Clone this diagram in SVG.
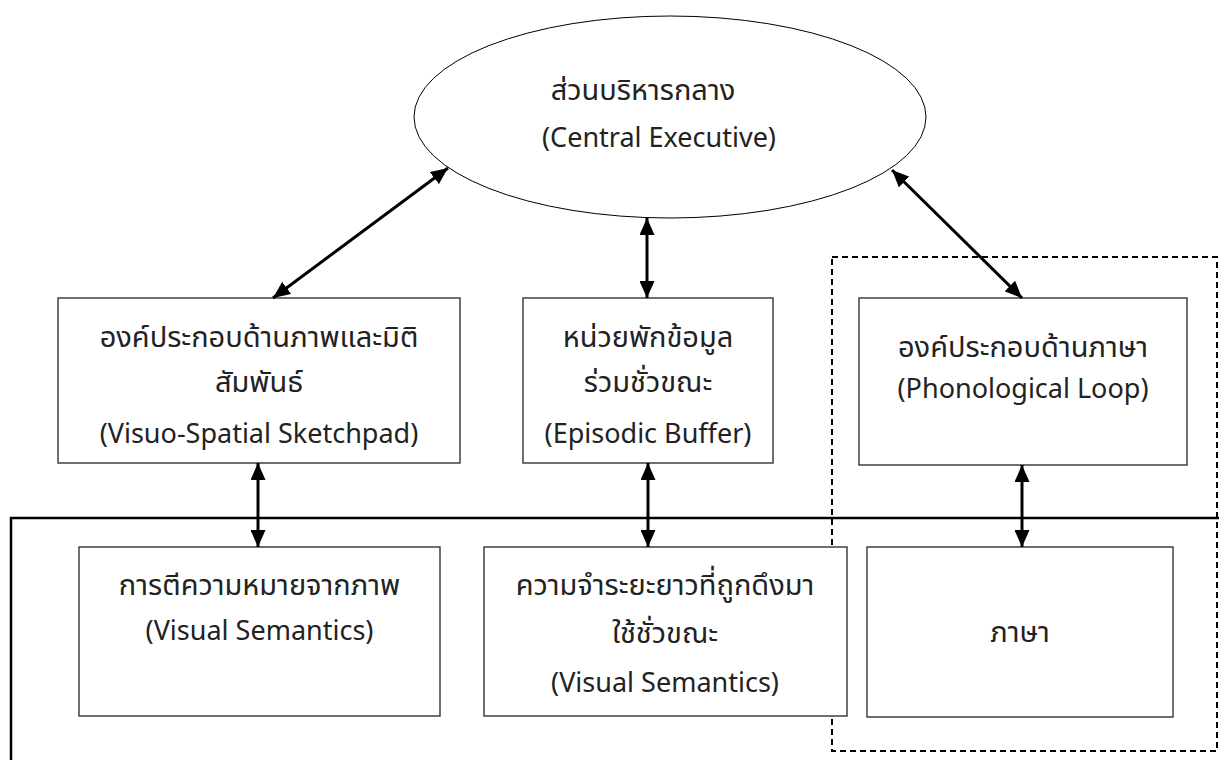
<svg xmlns="http://www.w3.org/2000/svg" width="1219" height="760" viewBox="0 0 1219 760">
<style>
.box{fill:#fff;stroke:#333;stroke-width:1.4}
.t{font-family:"Noto Sans","Noto Sans Thai","Liberation Sans",sans-serif;font-size:27px;fill:#222;text-anchor:middle}
.th{font-size:29px}
.c{stroke:#000;stroke-width:3;fill:none;marker-start:url(#ah);marker-end:url(#ah)}
</style>
<defs>
<marker id="ah" viewBox="0 0 17 15" refX="17" refY="7.5" markerWidth="17" markerHeight="15" markerUnits="userSpaceOnUse" orient="auto-start-reverse">
<path d="M0,0 L17,7.5 L0,15 Z" fill="#000"/>
</marker>
</defs>
<rect width="1219" height="760" fill="#fff"/>
<g id="frame">
<path d="M11,760 V518 H1219" fill="none" stroke="#000" stroke-width="2.5"/>
</g>
<g id="phonological-group">
<rect x="832" y="257" width="385" height="494" fill="none" stroke="#000" stroke-width="2" stroke-dasharray="6 4"/>
</g>
<g id="central-executive">
<ellipse cx="670" cy="117" rx="256" ry="101" fill="#fff" stroke="#000" stroke-width="1"/>
<text class="t th" x="643" y="100">ส่วนบริหารกลาง</text>
<text class="t" x="659" y="147">(Central Executive)</text>
</g>
<g id="visuo-spatial">
<rect class="box" x="58" y="298" width="402" height="165"/>
<text class="t th" x="259" y="347">องค์ประกอบด้านภาพและมิติ</text>
<text class="t th" x="259" y="392">สัมพันธ์</text>
<text class="t" x="259" y="443">(Visuo-Spatial Sketchpad)</text>
</g>
<g id="episodic-buffer">
<rect class="box" x="523" y="298" width="250" height="165"/>
<text class="t th" x="648" y="347">หน่วยพักข้อมูล</text>
<text class="t th" x="648" y="392">ร่วมชั่วขณะ</text>
<text class="t" x="648" y="443">(Episodic Buffer)</text>
</g>
<g id="phonological-loop">
<rect class="box" x="859" y="298" width="328" height="167"/>
<text class="t th" x="1023" y="357">องค์ประกอบด้านภาษา</text>
<text class="t" x="1023" y="398">(Phonological Loop)</text>
</g>
<g id="visual-semantics">
<rect class="box" x="79" y="547" width="361" height="169"/>
<text class="t th" x="259.5" y="595">การตีความหมายจากภาพ</text>
<text class="t" x="259.5" y="640">(Visual Semantics)</text>
</g>
<g id="episodic-ltm">
<rect class="box" x="484" y="547" width="363" height="169"/>
<text class="t th" x="665" y="595">ความจำระยะยาวที่ถูกดึงมา</text>
<text class="t th" x="665" y="643">ใช้ชั่วขณะ</text>
<text class="t" x="665" y="692">(Visual Semantics)</text>
</g>
<g id="language">
<rect class="box" x="867" y="547" width="306" height="170"/>
<text class="t th" x="1020" y="642">ภาษา</text>
</g>
<g id="connectors">
<line class="c" x1="273" y1="298" x2="448" y2="168"/>
<line class="c" x1="647" y1="218" x2="647" y2="298"/>
<line class="c" x1="892" y1="170" x2="1022" y2="298"/>
<line class="c" x1="258" y1="463" x2="258" y2="547"/>
<line class="c" x1="648" y1="463" x2="648" y2="547"/>
<line class="c" x1="1022" y1="465" x2="1022" y2="547"/>
</g>
</svg>
